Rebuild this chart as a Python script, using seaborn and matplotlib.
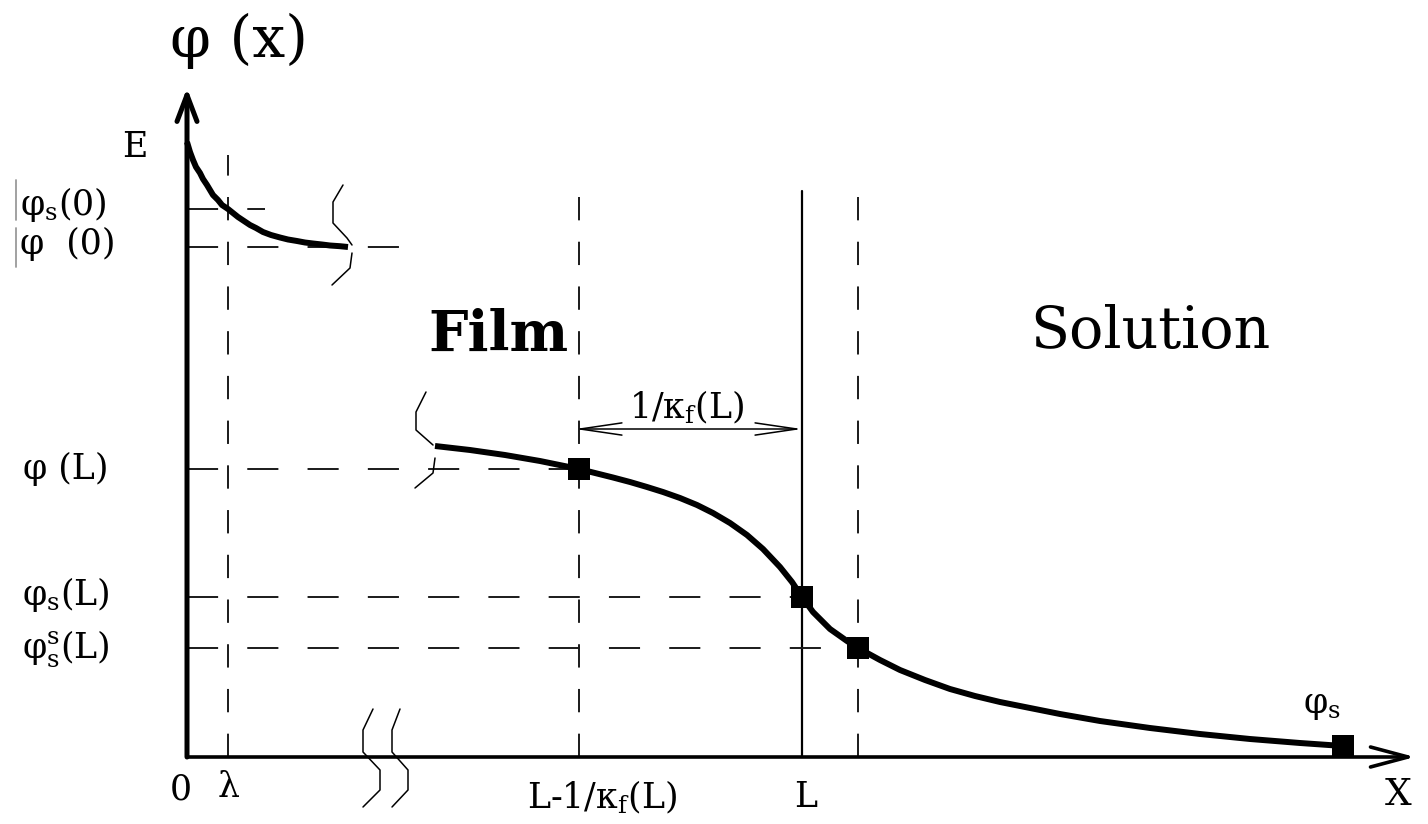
import matplotlib
matplotlib.use("Agg")
import matplotlib.pyplot as plt
import seaborn as sns

# ---- potential profile across the film / solution interface (schematic units) ----
# inner branch near the electrode, x in [0, lambda] and beyond
inner_x = [0.00, 0.03, 0.06, 0.09, 0.13, 0.16, 0.20, 0.23, 0.26, 0.31, 0.35, 0.41, 0.46, 0.51,
           0.57, 0.63, 0.69, 0.76, 0.84, 0.93, 1.01, 1.10, 1.18, 1.26, 1.35, 1.43, 1.53, 1.61]
inner_y = [6.15, 6.05, 5.97, 5.90, 5.84, 5.78, 5.72, 5.67, 5.62, 5.57, 5.52, 5.48, 5.44, 5.40,
           5.36, 5.32, 5.29, 5.25, 5.22, 5.195, 5.175, 5.16, 5.145, 5.135, 5.125, 5.115, 5.108, 5.10]

# outer branch: film edge through the interface into the bulk solution
outer_x = [2.48, 2.83, 3.18, 3.53, 3.92, 4.10, 4.26, 4.43, 4.60, 4.76, 4.93, 5.10, 5.26, 5.43,
           5.60, 5.76, 5.93, 6.05, 6.15, 6.26, 6.43, 6.60, 6.71, 6.93, 7.13, 7.38, 7.63, 7.88,
           8.13, 8.43, 8.73, 9.13, 9.63, 10.13, 10.63, 11.13, 11.56]
outer_y = [3.11, 3.07, 3.02, 2.96, 2.88, 2.835, 2.795, 2.75, 2.70, 2.65, 2.59, 2.52, 2.44, 2.34,
           2.22, 2.08, 1.90, 1.75, 1.60, 1.45, 1.28, 1.16, 1.09, 0.97, 0.87, 0.77, 0.68, 0.61,
           0.55, 0.49, 0.43, 0.36, 0.29, 0.23, 0.18, 0.14, 0.11]

# marked points: phi(L), phi_s(L), phi_s^s(L), phi_s
point_x = [3.92, 6.15, 6.71, 11.56]
point_y = [2.88, 1.60, 1.09, 0.11]

# characteristic positions on the x axis
x_lambda = 0.41
x_debye = 3.92        # L - 1/kappa_f(L)
x_L = 6.15
x_outer = 6.71

# characteristic potential levels
phi_s0 = 5.48
phi_0 = 5.10
phi_L = 2.88
phi_sL = 1.60
phi_ssL = 1.09

x_tip = 12.28
y_tip = 6.69
kappa_arrow_y = 3.28

# axis-break glyphs
brk_top_upper_x = [1.56, 1.46, 1.46, 1.60, 1.65]
brk_top_upper_y = [5.72, 5.55, 5.34, 5.19, 5.12]
brk_top_lower_x = [1.65, 1.63, 1.45]
brk_top_lower_y = [5.04, 4.89, 4.72]
brk_mid_upper_x = [2.39, 2.29, 2.29, 2.46]
brk_mid_upper_y = [3.65, 3.45, 3.27, 3.12]
brk_mid_lower_x = [2.48, 2.46, 2.28]
brk_mid_lower_y = [2.99, 2.84, 2.69]
brk_ax1_x = [1.86, 1.76, 1.76, 1.93, 1.93, 1.76]
brk_ax2_x = [2.13, 2.05, 2.05, 2.21, 2.21, 2.05]
brk_ax_y = [0.48, 0.27, 0.05, -0.13, -0.33, -0.50]

sns.set_theme(style="white")
plt.rcParams["font.family"] = ["DejaVu Serif"]
plt.rcParams["text.color"] = "black"
plt.rcParams["mathtext.fontset"] = "custom"
plt.rcParams["mathtext.rm"] = "DejaVu Serif"
plt.rcParams["mathtext.it"] = "DejaVu Serif:italic"

fig = plt.figure(figsize=(14.28, 8.24), dpi=100)
ax = fig.add_axes([0, 0, 1, 1])
ax.set_xlim(-1.87, 12.41)
ax.set_ylim(-0.67, 7.57)
ax.axis("off")

ink = "black"
dash_col = "#1a1a1a"

# reference lines
vdash = dict(color=dash_col, lw=1.4, dashes=(12, 11))
hdash = dict(color=dash_col, lw=1.4, dashes=(16, 15))
ax.plot([x_lambda, x_lambda], [0, 6.02], **vdash)
ax.plot([x_debye, x_debye], [0, 5.65], **vdash)
ax.plot([x_outer, x_outer], [0, 5.60], **vdash)
ax.plot([x_L, x_L], [0, 5.66], color=ink, lw=1.6)

ax.plot([0, 0.78], [phi_s0, phi_s0], **hdash)
ax.plot([0, 2.21], [phi_0, phi_0], **hdash)
ax.plot([0, x_debye], [phi_L, phi_L], **hdash)
ax.plot([0, x_L], [phi_sL, phi_sL], **hdash)
ax.plot([0, x_outer], [phi_ssL, phi_ssL], **hdash)

# axes with arrow heads
ax.annotate("", xy=(0, y_tip), xytext=(0, 0),
            arrowprops=dict(arrowstyle="->,head_length=0.95,head_width=0.36",
                            lw=3.6, color=ink, shrinkA=0, shrinkB=0, mutation_scale=20))
ax.annotate("", xy=(x_tip, 0), xytext=(0, 0),
            arrowprops=dict(arrowstyle="->,head_length=1.35,head_width=0.36",
                            lw=2.6, color=ink, shrinkA=0, shrinkB=0, mutation_scale=20))

# 1/kappa_f(L) span
ax.annotate("", xy=(x_L, kappa_arrow_y), xytext=(x_debye - 0.04, kappa_arrow_y),
            arrowprops=dict(arrowstyle="<->,head_length=1.5,head_width=0.22",
                            lw=1.1, color=ink, shrinkA=0, shrinkB=0, mutation_scale=20))

# break glyphs
for bx, by in [(brk_top_upper_x, brk_top_upper_y), (brk_top_lower_x, brk_top_lower_y),
               (brk_mid_upper_x, brk_mid_upper_y), (brk_mid_lower_x, brk_mid_lower_y),
               (brk_ax1_x, brk_ax_y), (brk_ax2_x, brk_ax_y)]:
    ax.plot(bx, by, color=ink, lw=1.1)

# potential curves
sns.lineplot(x=inner_x, y=inner_y, sort=False, color=ink, lw=4.3, ax=ax,
             solid_joinstyle="round", solid_capstyle="butt", zorder=4)
sns.lineplot(x=outer_x, y=outer_y, sort=False, color=ink, lw=4.3, ax=ax,
             solid_joinstyle="round", solid_capstyle="butt", zorder=4)
sns.scatterplot(x=point_x, y=point_y, marker="s", s=230, color=ink, linewidth=0, ax=ax, zorder=5)

# left-side bars next to the phi(0) labels
ax.plot([-1.71, -1.71], [5.77, 5.37], color="#9a9a9a", lw=1.3)
ax.plot([-1.71, -1.71], [5.29, 4.90], color="#9a9a9a", lw=1.3)

# labels
lab = 25
ax.text(0.52, 7.16, "φ (x)", fontsize=42, ha="center", va="center", color=ink)
ax.text(-0.52, 6.10, "E", fontsize=lab, ha="center", va="center", color=ink)
ax.text(-1.67, 5.52, r"$\mathrm{φ}_\mathrm{s}$(0)", fontsize=lab, ha="left", va="center", color=ink)
ax.text(-1.67, 5.13, "φ  (0)", fontsize=lab, ha="left", va="center", color=ink)
ax.text(-1.64, 2.88, "φ (L)", fontsize=lab, ha="left", va="center", color=ink)
ax.text(-1.65, 1.62, r"$\mathrm{φ}_\mathrm{s}$(L)", fontsize=lab, ha="left", va="center", color=ink)
ax.text(-1.65, 1.08, r"$\mathrm{φ}^\mathrm{s}_\mathrm{s}$(L)", fontsize=lab, ha="left", va="center", color=ink)

ax.text(-0.06, -0.32, "0", fontsize=lab, ha="center", va="center", color=ink)
ax.text(0.42, -0.30, "λ", fontsize=lab, ha="center", va="center", color=ink)
ax.text(4.15, -0.40, r"L-1/$\mathrm{κ}_\mathrm{f}$(L)", fontsize=lab, ha="center", va="center", color=ink)
ax.text(6.19, -0.40, "L", fontsize=lab, ha="center", va="center", color=ink)
ax.text(12.11, -0.38, "X", fontsize=27, ha="center", va="center", color=ink)
ax.text(5.00, 3.50, r"1/$\mathrm{κ}_\mathrm{f}$(L)", fontsize=lab, ha="center", va="center", color=ink)
ax.text(11.35, 0.52, r"$\mathrm{φ}_\mathrm{s}$", fontsize=lab, ha="center", va="center", color=ink)

ax.text(3.11, 4.22, "Film", fontsize=40, fontweight="bold", ha="center", va="center", color=ink)
ax.text(9.63, 4.25, "Solution", fontsize=41, ha="center", va="center", color=ink)

fig.savefig("out.png", dpi=100, facecolor="white")
